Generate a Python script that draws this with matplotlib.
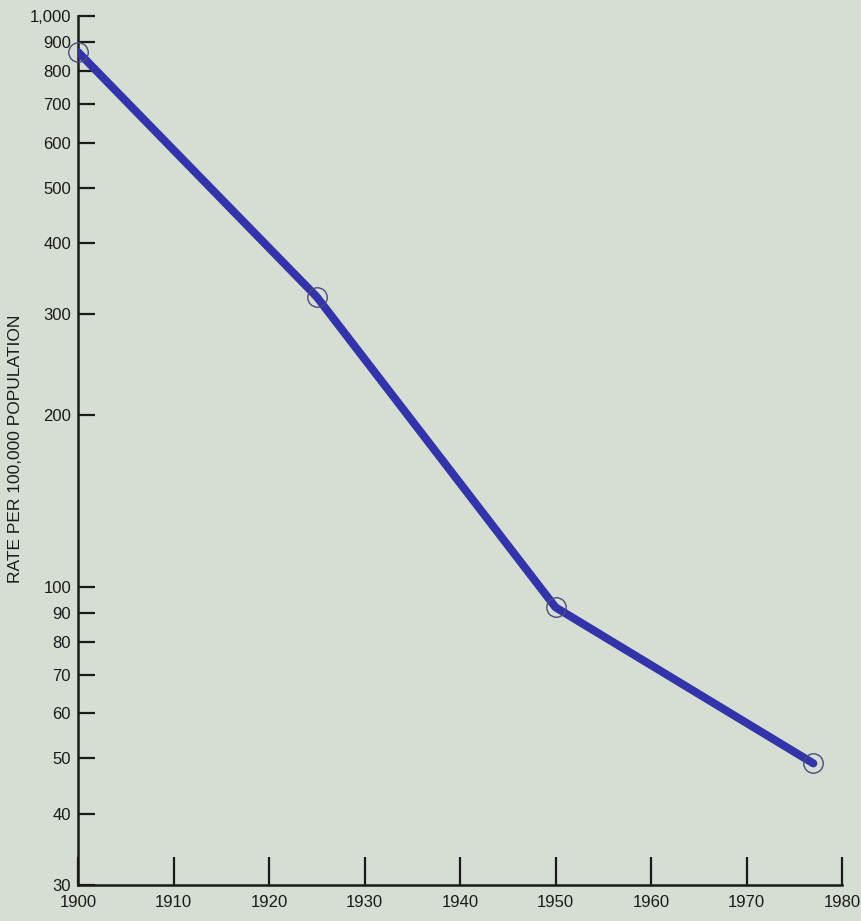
import matplotlib
matplotlib.use("Agg")
import matplotlib.pyplot as plt
from matplotlib.ticker import FixedLocator, FixedFormatter, NullLocator

plt.rcParams['font.family'] = ['Liberation Sans', 'DejaVu Sans']

# data
years = [1900, 1925, 1950, 1977]
rates = [865, 322, 92, 49]

y_ticks = [30, 40, 50, 60, 70, 80, 90, 100, 200, 300, 400, 500, 600, 700, 800, 900, 1000]
y_labels = ['30', '40', '50', '60', '70', '80', '90', '100', '200', '300', '400',
            '500', '600', '700', '800', '900', '1,000']
x_ticks = [1900, 1910, 1920, 1930, 1940, 1950, 1960, 1970, 1980]

bg = '#d6ded4'
line_color = '#3434aa'

fig = plt.figure(figsize=(8.62, 9.21), dpi=100, facecolor=bg)
ax = fig.add_axes([78 / 862, 1 - 885 / 921, (842 - 78) / 862, (885 - 16) / 921])
ax.set_facecolor(bg)

ax.plot(years, rates, color=line_color, lw=5.8, solid_capstyle='round', zorder=3)
ax.plot(years, rates, 'o', ms=14, mfc='none', mec='#4a4a80', mew=1.0,
        clip_on=False, zorder=4)

ax.set_yscale('log')
ax.set_ylim(30, 1000)
ax.set_xlim(1900, 1980)

ax.yaxis.set_major_locator(FixedLocator(y_ticks))
ax.yaxis.set_major_formatter(FixedFormatter(y_labels))
ax.yaxis.set_minor_locator(NullLocator())
ax.set_xticks(x_ticks)
ax.set_xticklabels([str(x) for x in x_ticks])

ax.tick_params(axis='y', direction='in', length=12, width=1.6, pad=5,
               labelsize=12, colors='#1a1a1a')
ax.tick_params(axis='x', direction='in', length=20, width=1.6, pad=7,
               labelsize=12, colors='#1a1a1a')

for side in ['top', 'right']:
    ax.spines[side].set_visible(False)
for side in ['left', 'bottom']:
    ax.spines[side].set_linewidth(1.8)
    ax.spines[side].set_color('#1a1a1a')

fig.text(15.5 / 862, 1 - 449 / 921, 'RATE PER 100,000 POPULATION', rotation=90,
         ha='center', va='center', fontsize=12.5, color='#1a1a1a')

fig.savefig('out.png', dpi=100, facecolor=bg)
